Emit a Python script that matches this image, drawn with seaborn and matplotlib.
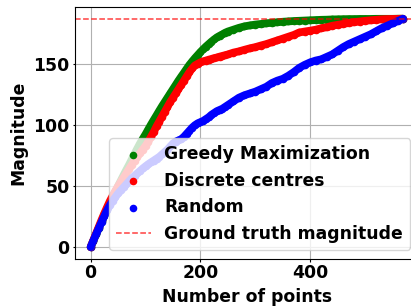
import matplotlib
matplotlib.use("Agg")
import matplotlib.pyplot as plt
import seaborn as sns

# number of points at which the magnitude was recorded
n_points = list(range(0, 251, 5)) + list(range(260, 561, 10)) + [569]

greedy = [0, 5.3, 10.5, 15.8, 21, 26, 31, 35.8, 40.5, 45.3,
          50, 54.5, 59, 63.3, 67.5, 72, 76.5, 80.8, 85, 88.8,
          92.5, 96.5, 100.5, 104.3, 108, 111.8, 115.5, 119, 122.5, 126,
          129.5, 133, 136.5, 139.8, 143, 146.3, 149.5, 152.3, 155, 157.5,
          160, 162.3, 164.5, 166.5, 168.5, 170.3, 172, 173.3, 174.5, 175.8,
          176.8,
          178.3, 179.8, 181, 181.8, 182.5, 183, 183.5, 184, 184.4, 184.8,
          185.1, 185.4, 185.6, 185.8, 186, 186.2, 186.4, 186.5, 186.7, 186.8,
          186.9, 187, 187, 187.1, 187.1, 187.1, 187.2, 187.2, 187.2, 187.2,
          187.3, 187.3]

discrete = [0, 5.6, 11.2, 16.8, 22.4, 27.7, 32.8, 37.7, 42, 46.2,
            50, 53.5, 57, 60.5, 64, 67.5, 71, 74, 77, 80,
            83, 86.5, 90.5, 94.5, 99, 103, 107, 111, 115, 119,
            122.5, 126, 129.5, 133, 136.5, 140, 143.5, 146.5, 149, 150.3,
            151.5, 152.3, 153, 153.7, 154.3, 155, 155.5, 156.2, 156.8, 157.4,
            158,
            159.5, 160.5, 161.8, 163, 164, 165.3, 166.5, 168, 169.5, 171,
            172.5, 174, 176, 176.8, 177.5, 178.3, 179.5, 180.3, 181.5, 182.3,
            183, 183.8, 184.5, 185, 185.6, 186, 186.4, 186.8, 187, 187.1,
            187.2, 187.3]

random_pts = [0, 5.3, 10.5, 15.6, 20.6, 25.5, 30.2, 34.3, 37.8, 41,
              44, 46.5, 49, 51.5, 54, 56.5, 58.5, 60.5, 62.5, 64.5,
              66.3, 68, 69.5, 71, 72.5, 74, 76, 78, 80, 82.5,
              85, 86.5, 87.5, 88.5, 90.5, 93, 95.5, 98, 100, 101.5,
              102.5, 103.5, 105, 106.5, 108.5, 110, 111.5, 112.5, 113.5, 115,
              116.5,
              119.5, 122.5, 124.5, 126, 127.5, 129.5, 131.5, 134.5, 136.5, 138,
              140.5, 143.5, 147, 149.5, 151.5, 153, 154, 156, 158, 161,
              164, 166.5, 168.5, 170.5, 172.5, 174.5, 177, 179.5, 181.5, 183.5,
              185.5, 187.3]

ground_truth = 187.3

series = [
    ('Greedy Maximization', greedy, 'green'),
    ('Discrete centres', discrete, 'red'),
    ('Random', random_pts, 'blue'),
]

plt.rcParams['font.family'] = ['DejaVu Sans']
plt.rcParams['font.weight'] = 'bold'
plt.rcParams['axes.labelweight'] = 'bold'
plt.rcParams['font.size'] = 12.4
plt.rcParams['xtick.major.size'] = 1.8
plt.rcParams['ytick.major.size'] = 1.8
plt.rcParams['xtick.major.pad'] = 2.2
plt.rcParams['ytick.major.pad'] = 2.2

fig = plt.figure(figsize=(4.11, 3.08), dpi=100)
ax = fig.add_axes([0.1825, 0.1607, 0.836, 0.8156])

for name, vals, col in series:
    # dense point cloud in the original, drawn here as a thick band of dots
    sns.lineplot(x=n_points, y=vals, color=col, linewidth=5.6,
                 solid_capstyle='round', solid_joinstyle='round',
                 estimator=None, sort=False, legend=False, ax=ax)
    sns.scatterplot(x=n_points, y=vals, color=col, s=30, linewidth=0,
                    label=name, legend=False, ax=ax)

ax.axhline(ground_truth, color='red', linestyle='--', linewidth=1.1, alpha=0.75,
           label='Ground truth magnitude')

ax.grid(True)
ax.set_axisbelow(True)
ax.set_xticks([0, 200, 400])
ax.set_yticks([0, 50, 100, 150])
ax.set_xlabel('Number of points')
ax.set_ylabel('Magnitude')
handles, labels = ax.get_legend_handles_labels()
keep = [i for i, l in enumerate(labels) if not l.startswith('_')]
ax.legend([handles[i] for i in keep], [labels[i] for i in keep], loc='lower right')

fig.savefig('out.png', dpi=100)
